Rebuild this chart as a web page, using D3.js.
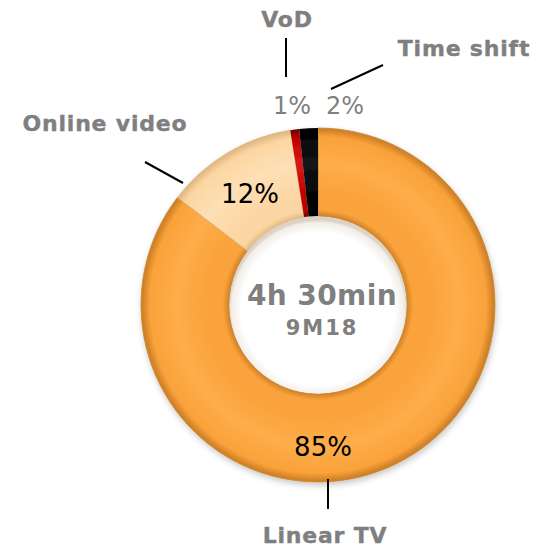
<!DOCTYPE html>
<html>
<head>
<meta charset="utf-8">
<script src="https://cdn.jsdelivr.net/npm/d3@7/dist/d3.min.js"></script>
<style>
  html, body { margin: 0; padding: 0; background: #fff; }
  svg { display: block; }
  text { font-family: "DejaVu Sans", Verdana, sans-serif; }
</style>
</head>
<body>
<svg id="chart" width="538" height="547"></svg>
<script>
// ---- data ----
const categories = ["Linear TV", "Online video", "VoD", "Time shift"];
const values = [85.4, 12.1, 0.8, 1.7];
const percentLabels = ["85%", "12%", "1%", "2%"];
const centerTitle = "4h 30min";
const centerSubtitle = "9M18";

// ---- layout ----
const W = 538, H = 547;
const cx = 318, cy = 305;
const outerR = 177, innerR = 89;

const svg = d3.select("#chart");
const defs = svg.append("defs");

// colour ramps for bevel look: [edge, base, highlight]
const palette = [
  ["#D08228", "#FAA23A", "#FDAD4A"],
  ["#E2BA86", "#FCD6A2", "#FDE0B6"],
  ["#7A0000", "#C00000", "#D81818"],
  ["#000000", "#050505", "#151515"]
];
const k = innerR / outerR;
palette.forEach((p, i) => {
  const g = defs.append("radialGradient")
    .attr("id", "grad" + i)
    .attr("gradientUnits", "userSpaceOnUse")
    .attr("cx", 0).attr("cy", 0).attr("r", outerR);
  const stops = [
    [k, p[0]], [k + 0.035, p[1]], [k + 0.12, p[1]],
    [0.80, p[2]], [0.95, p[1]], [0.99, p[0]], [1, p[0]]
  ];
  stops.forEach(s => g.append("stop").attr("offset", s[0]).attr("stop-color", s[1]));
});

// shadow filter
const f = defs.append("filter").attr("id", "shadow")
  .attr("x", "-20%").attr("y", "-20%").attr("width", "140%").attr("height", "140%");
f.append("feDropShadow").attr("dx", 1).attr("dy", 3).attr("stdDeviation", 3)
  .attr("flood-color", "#000").attr("flood-opacity", 0.22);

// inner hole shading
const hg = defs.append("radialGradient").attr("id", "hole")
  .attr("gradientUnits", "userSpaceOnUse")
  .attr("cx", 0).attr("cy", 4).attr("r", innerR);
hg.append("stop").attr("offset", 0.86).attr("stop-color", "#ffffff");
hg.append("stop").attr("offset", 0.97).attr("stop-color", "#f2eee8");
hg.append("stop").attr("offset", 1).attr("stop-color", "#ddd3c4");

const pie = d3.pie().sort(null).value(d => d)
  .startAngle(0).endAngle(2 * Math.PI);
const arcs = pie(values);
const arc = d3.arc().innerRadius(innerR).outerRadius(outerR);

const g = svg.append("g").attr("transform", `translate(${cx},${cy})`);

g.append("g").attr("filter", "url(#shadow)")
  .selectAll("path").data(arcs).join("path")
  .attr("d", arc)
  .attr("fill", (d, i) => `url(#grad${i})`)
  .attr("stroke", (d, i) => i === 0 ? "#C98330" : (i === 1 ? "#DDB07A" : "none"))
  .attr("stroke-width", 0.8);

g.append("circle").attr("r", innerR - 0.5).attr("fill", "url(#hole)");

// center text
g.append("text").attr("x", 4).attr("y", 0)
  .attr("text-anchor", "middle").attr("font-weight", "bold")
  .attr("font-size", 28).attr("fill", "#7F7F7F")
  .attr("letter-spacing", 0.4)
  .text(centerTitle);
g.append("text").attr("x", 4).attr("y", 30)
  .attr("text-anchor", "middle").attr("font-weight", "bold")
  .attr("font-size", 21).attr("fill", "#7F7F7F")
  .attr("letter-spacing", 2)
  .text(centerSubtitle);

// percentage labels (offsets relative to centre)
const pctPos = [[5, 151], [-68, -102], [-26, -191], [27, -191]];
const pctColor = ["#000", "#000", "#7F7F7F", "#7F7F7F"];
const pctSize = [26, 26, 24, 24];
g.selectAll("text.pct").data(arcs).join("text")
  .attr("class", "pct")
  .attr("x", (d, i) => pctPos[i][0])
  .attr("y", (d, i) => pctPos[i][1])
  .attr("text-anchor", "middle")
  .attr("font-size", (d, i) => pctSize[i])
  .attr("fill", (d, i) => pctColor[i])
  .text((d, i) => percentLabels[i]);

// category labels and leader lines (absolute)
const catPos = [[325, 543], [105, 131], [287, 27], [464, 56]];
const leaders = [
  [[328, 479], [328, 509]],
  [[183, 183], [145, 162]],
  [[286, 77], [286, 38]],
  [[331, 89], [383, 65]]
];
svg.selectAll("line.leader").data(leaders).join("line")
  .attr("class", "leader")
  .attr("x1", d => d[0][0]).attr("y1", d => d[0][1])
  .attr("x2", d => d[1][0]).attr("y2", d => d[1][1])
  .attr("stroke", "#000").attr("stroke-width", 2);

svg.selectAll("text.cat").data(categories).join("text")
  .attr("class", "cat")
  .attr("x", (d, i) => catPos[i][0])
  .attr("y", (d, i) => catPos[i][1])
  .attr("text-anchor", "middle")
  .attr("font-weight", "bold")
  .attr("font-size", 22)
  .attr("letter-spacing", 0.8)
  .attr("fill", "#7F7F7F")
  .attr("stroke", "#7F7F7F")
  .attr("stroke-width", 0.4)
  .text(d => d);
</script>
</body>
</html>
